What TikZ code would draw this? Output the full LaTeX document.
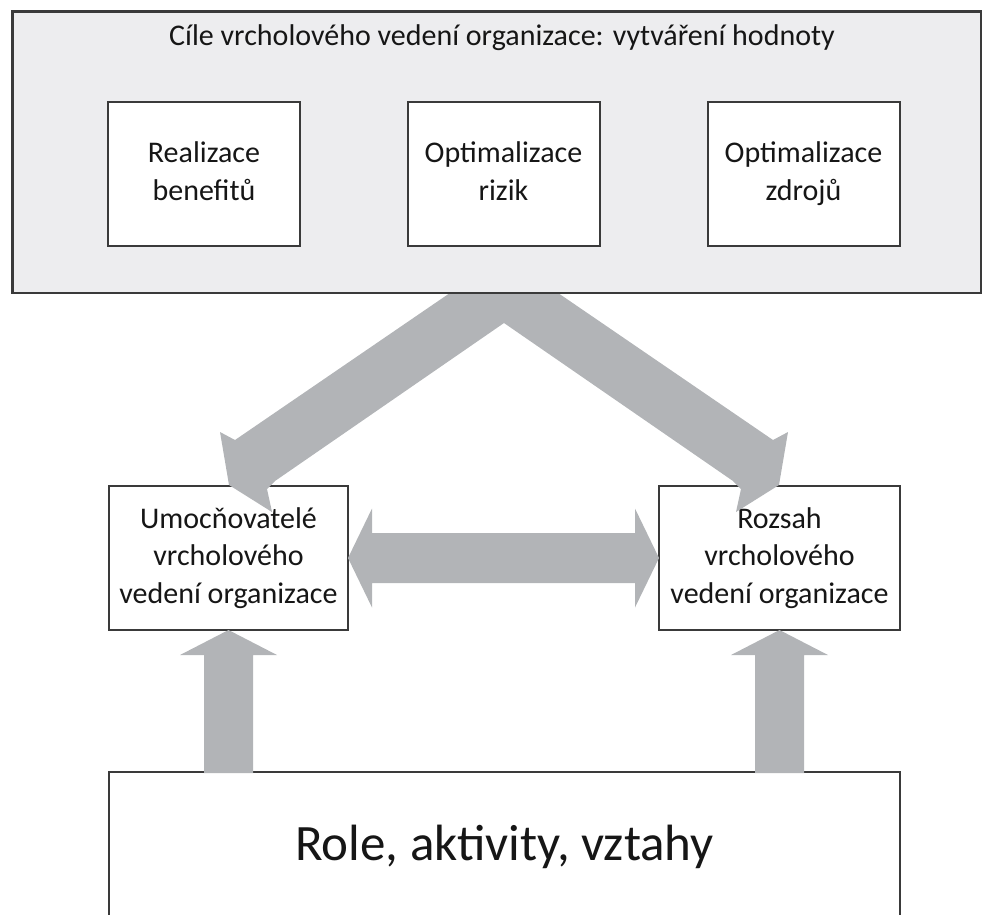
\documentclass[tikz,border=0pt]{standalone}
\usepackage{fontspec}
\setmainfont{Carlito}
\usetikzlibrary{calc}
\definecolor{panelfill}{RGB}{237,237,239}
\definecolor{arrowgray}{RGB}{178,180,183}
\definecolor{edgegray}{RGB}{58,58,58}
\definecolor{inkcol}{RGB}{22,22,22}
\begin{document}
\begin{tikzpicture}[x=1pt,y=-1pt,
  box/.style={draw=edgegray, line width=2pt, fill=white, inner sep=0pt, outer sep=0pt,
    text=inkcol, align=center, font=\fontsize{30pt}{37.5pt}\selectfont},
  goalbox/.style={box, minimum width=192pt, minimum height=144pt},
  tierbox/.style={box, minimum width=239pt, minimum height=144pt},
  blockarrow/.style={fill=arrowgray, draw=none}
]
\useasboundingbox (0,0) rectangle (982,914);

% middle tier: enablers and scope
\node[tierbox] (enab)  at (228.5,558) {\strut Umocňovatelé\\vrcholového\\vedení organizace\strut};
\node[tierbox, minimum width=241pt] (scope) at (779.5,558) {\strut Rozsah\\vrcholového\\vedení organizace\strut};

% base tier (its lower edge runs off the page)
\node[box, minimum width=791pt, minimum height=150pt, font=\fontsize{51pt}{61pt}\selectfont]
  (base) at (504.5,847) {Role, aktivity, vztahy};

% two wide arrows from the goals down to the middle tier
\coordinate (vpeak) at (504,256);
\fill[blockarrow] (vpeak)
  -- ($(enab.north)+(6.5,-46)$) -- ++(-15,-8)
  -- ($(enab.north)+(0.5,-1)$) -- ++(43,27) -- ++(-5,-23) -- ++(8,-8)
  -- ($(vpeak)+(0,67)$)
  -- ($(scope.north)+(-46.5,-5)$) -- ++(8,8) -- ++(-5,23) -- ++(43,-27)
  -- ($(scope.north)+(8.5,-54)$) -- ++(-15,8)
  -- cycle;

% goals panel
\node[draw=edgegray, line width=2.2pt, fill=panelfill, minimum width=968.5pt, minimum height=281.5pt,
  inner sep=0pt, outer sep=0pt] (goals) at (496.75,152.25) {};
\node[anchor=base, text=inkcol, font=\fontsize{30pt}{37.5pt}\selectfont, inner sep=0pt]
  (title) at (502,45) {Cíle vrcholového vedení organizace: vytváření hodnoty};
\node[goalbox] (benef) at (204,174)   {\strut Realizace\\benefitů\strut};
\node[goalbox] (risk)  at (503.5,174) {\strut Optimalizace\\rizik\strut};
\node[goalbox] (res)   at (803.5,174) {\strut Optimalizace\\zdrojů\strut};

% two-headed arrow between the middle boxes
\fill[blockarrow] (enab.east) -- ++(24,-49.5) -- ++(0,24.5)
  -- ($(scope.west)+(-24,-25)$) -- ++(0,-24.5) -- (scope.west)
  -- ++(-24,49.5) -- ++(0,-24.5)
  -- ($(enab.east)+(24,25)$) -- ++(0,24.5) -- cycle;

% upward arrows from the base tier
\fill[blockarrow] (enab.south) -- ++(48.5,25) -- ++(-24,0)
  -- ($(enab.south |- base.north)+(24.5,1)$) -- ++(-49,0)
  -- ($(enab.south)+(-24.5,25)$) -- ++(-24,0) -- cycle;
\fill[blockarrow] (scope.south) -- ++(48.5,25) -- ++(-24,0)
  -- ($(scope.south |- base.north)+(24.5,1)$) -- ++(-49,0)
  -- ($(scope.south)+(-24.5,25)$) -- ++(-24,0) -- cycle;
\end{tikzpicture}
\end{document}
